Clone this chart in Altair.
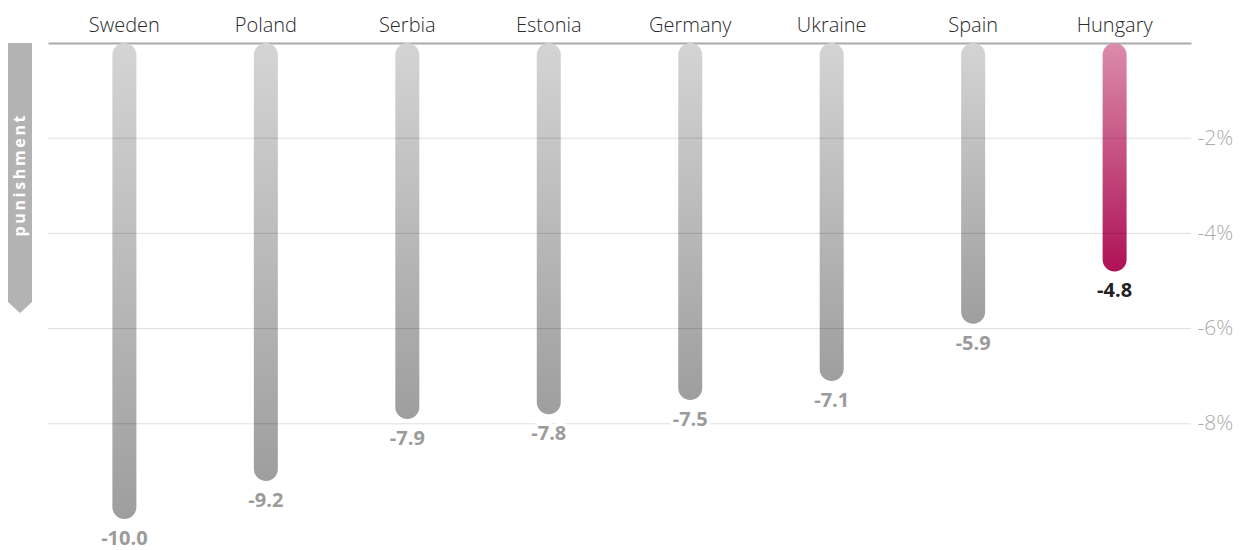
import altair as alt
import pandas as pd

countries = ["Sweden", "Poland", "Serbia", "Estonia", "Germany", "Ukraine", "Spain", "Hungary"]
values = [-10.0, -9.2, -7.9, -7.8, -7.5, -7.1, -5.9, -4.8]
highlight = "Hungary"
grid_values = [-2, -4, -6, -8]
side_label = "p\u2009u\u2009n\u2009i\u2009s\u2009h\u2009m\u2009e\u2009n\u2009t"

df = pd.DataFrame({"country": countries, "value": values})
df["hl"] = df["country"] == highlight
grid_df = pd.DataFrame({"g": grid_values})

W, H = 1143, 476
FONT = "Open Sans"

x_enc = alt.X(
    "country:N",
    sort=countries,
    scale=alt.Scale(paddingInner=0, paddingOuter=0.04),
    axis=alt.Axis(
        orient="top", title=None, ticks=False, labelAngle=0,
        labelFontSize=20, labelColor="#2a2a2a", labelFont=FONT, labelFontWeight=300,
        labelPadding=8, domainColor="#aaaaaa", domainWidth=2, grid=False,
    ),
)
y_scale = alt.Scale(domain=[-10, 0], nice=False, zero=False)
y_enc = alt.Y(
    "value:Q",
    scale=y_scale,
    axis=alt.Axis(
        orient="right", title=None, values=grid_values, grid=False, domain=False,
        ticks=False, labelFontSize=21, labelColor="#aaaaaa", labelFont=FONT,
        labelFontWeight=300, labelPadding=6,
        labelExpr="'-' + format(abs(datum.value), 'd') + '%'",
    ),
)

gray_grad = alt.LinearGradient(
    gradient="linear",
    stops=[alt.GradientStop(offset=0, color="#d4d4d4"), alt.GradientStop(offset=1, color="#9e9e9e")],
    x1=0, x2=0, y1=0, y2=1,
)
pink_grad = alt.LinearGradient(
    gradient="linear",
    stops=[alt.GradientStop(offset=0, color="#db8cab"), alt.GradientStop(offset=1, color="#ae1256")],
    x1=0, x2=0, y1=0, y2=1,
)

base = alt.Chart(df).transform_calculate(
    label="'-' + format(abs(datum.value), '.1f')"
)

bars_gray = base.transform_filter("!datum.hl").mark_bar(
    width=24, cornerRadiusEnd=12, color=gray_grad
).encode(x=x_enc, y=y_enc, y2=alt.datum(0))

bars_hl = base.transform_filter("datum.hl").mark_bar(
    width=24, cornerRadiusEnd=12, color=pink_grad
).encode(x=alt.X("country:N", sort=countries), y=alt.Y("value:Q", scale=y_scale), y2=alt.datum(0))

grid = alt.Chart(grid_df).mark_rule(color="#000000", opacity=0.13, strokeWidth=1).encode(
    y=alt.Y("g:Q", scale=y_scale), x=alt.value(0), x2=alt.value("width")
)

halo = base.mark_text(
    font=FONT, fontSize=20, fontWeight="bold", baseline="middle", dy=20,
    stroke="white", strokeWidth=7, strokeJoin="round", color="white",
).encode(
    x=alt.X("country:N", sort=countries),
    y=alt.Y("value:Q", scale=y_scale),
    text="label:N",
)

labels = base.mark_text(
    font=FONT, fontSize=20, fontWeight="bold", baseline="middle", dy=20,
).encode(
    x=alt.X("country:N", sort=countries),
    y=alt.Y("value:Q", scale=y_scale),
    text="label:N",
    color=alt.Color("hl:N", scale=alt.Scale(domain=[False, True], range=["#9b9b9b", "#222222"]), legend=None),
)

banner = alt.Chart(pd.DataFrame({"t": [side_label]})).mark_point(
    shape="M -0.0889 -1 L 0.0889 -1 L 0.0889 0.9185 L 0 1 L -0.0889 0.9185 Z",
    filled=True, color="#b3b3b3", opacity=1, size=72900, strokeWidth=0,
).encode(x=alt.value(-28), y=alt.value(135))

banner_text = alt.Chart(pd.DataFrame({"t": [side_label]})).mark_text(
    font=FONT, fontSize=16, fontWeight="bold", color="white", angle=270,
    align="center", baseline="middle",
).encode(x=alt.value(-28), y=alt.value(133), text="t:N")

chart = alt.layer(
    bars_gray, bars_hl, grid, halo, labels, banner, banner_text
).properties(
    width=W, height=H,
    autosize=alt.AutoSizeParams(type="none"),
    padding={"left": 48, "top": 43, "right": 63, "bottom": 31},
).configure(background="white").configure_view(stroke=None, strokeWidth=0)

chart.save("out.html", embed_options={"renderer": "svg", "actions": False})
